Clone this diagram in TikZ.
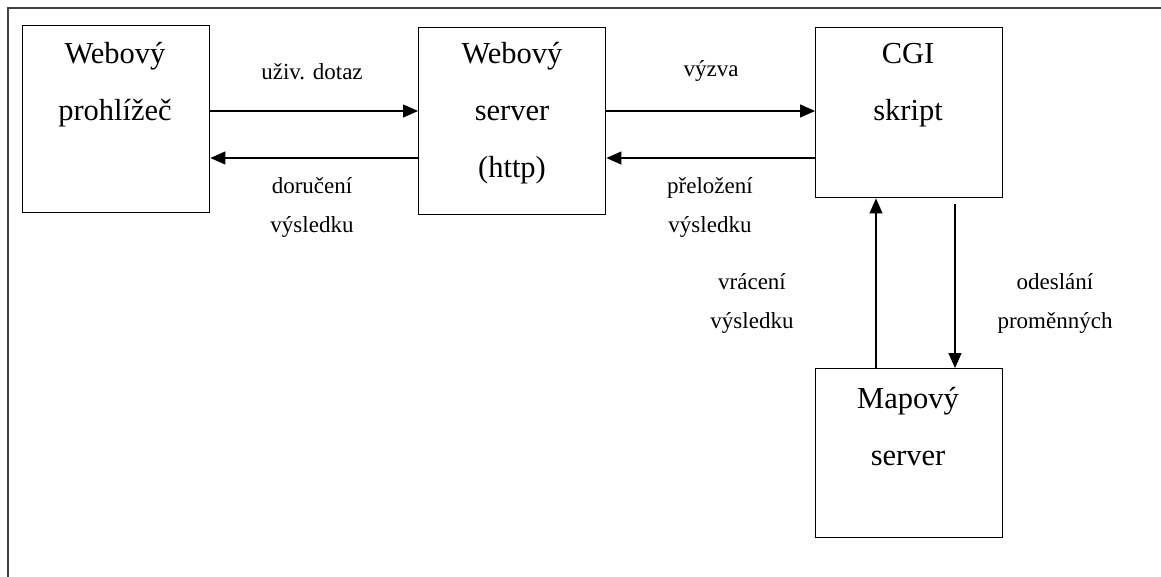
\documentclass[tikz,border=0pt]{standalone}
\usepackage{fontspec}
\setmainfont{Liberation Serif}
\usetikzlibrary{arrows.meta}
\begin{document}
\begin{tikzpicture}[x=1pt,y=-1pt,
  box/.style={draw,line width=1.4pt,minimum width=187pt,minimum height=#1,inner sep=0pt,anchor=north west},
  boxtext/.style={font=\fontsize{30.5}{57}\selectfont,align=center,inner sep=0pt},
  lbl/.style={font=\fontsize{23}{39}\selectfont,align=center,inner sep=0pt},
  arr/.style={line width=1.2pt,-{Triangle[length=15pt,width=13pt]}}]
\useasboundingbox (0,0) rectangle (1161,576);
\begin{scope}
\clip (0,0) rectangle (1161,576);
\draw[line width=2pt,black!75] (8,8) rectangle (1200,620);
\end{scope}
% boxes
\node[box=187pt] (b1) at (22,25) {};
\node[box=187pt] (b2) at (418,27) {};
\node[box=170pt] (b3) at (815,27) {};
\node[box=169pt] (b4) at (815,368) {};
% box texts
\node[boxtext] (t1) at (115,85) {Webový\\prohlížeč};
\node[boxtext] (t2) at (512,113) {Webový\\server\\(http)};
\node[boxtext] (t3) at (908,85) {CGI\\skript};
\node[boxtext] (t4) at (908,427) {Mapový\\server};
% rows
\coordinate (r1) at (0,111);
\coordinate (r2) at (0,158);
\coordinate (cu) at (876,0);
\coordinate (cd) at (955,0);
\coordinate (cdtop) at (955,204);
% connectors
\draw[arr] (b1.east |- r1) -- (b2.west |- r1);
\draw[arr] (b2.west |- r2) -- (b1.east |- r2);
\draw[arr] (b2.east |- r1) -- (b3.west |- r1);
\draw[arr] (b3.west |- r2) -- (b2.east |- r2);
\draw[arr] (b4.north -| cu) -- (b3.south -| cu);
\draw[arr] (cdtop) -- (b4.north -| cd);
% labels
\node[lbl] (l1) at (312,72) {uživ. dotaz};
\node[lbl] (l2) at (312,207) {doručení\\výsledku};
\node[lbl] (l3) at (711,71) {výzva};
\node[lbl] (l4) at (710,207) {přeložení\\výsledku};
\node[lbl] (l5) at (752,303) {vrácení\\výsledku};
\node[lbl] (l6) at (1055,303) {odeslání\\proměnných};
\end{tikzpicture}
\end{document}
